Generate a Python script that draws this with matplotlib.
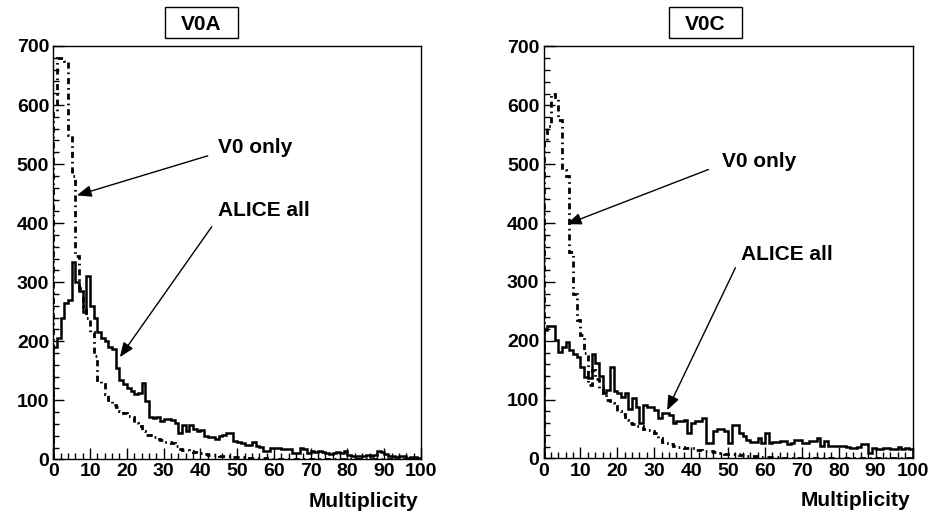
import numpy as np
import matplotlib.pyplot as plt
from matplotlib.patches import Rectangle
from matplotlib.ticker import MultipleLocator

# ROOT-like look: Helvetica bold -> Liberation Sans bold
plt.rcParams['font.family'] = ['Liberation Sans', 'DejaVu Sans']
plt.rcParams['font.weight'] = 'bold'

# bin edges 0..100, one unit per bin
edges = np.arange(0, 101, 1)

# V0A, ALICE all (solid)
v0a_all = [190, 205, 240, 265, 270, 335, 300, 285, 250, 310,
           260, 240, 215, 205, 200, 190, 187, 155, 135, 128,
           120, 115, 110, 112, 130, 98, 72, 70, 72, 65,
           68, 68, 66, 62, 45, 58, 48, 58, 52, 48,
           50, 40, 38, 37, 35, 40, 42, 45, 44, 31,
           30, 28, 25, 25, 30, 22, 21, 14, 14, 19,
           20, 19, 18, 17, 17, 11, 10, 20, 18, 10,
           14, 13, 14, 12, 11, 9, 11, 12, 10, 14,
           8, 6, 6, 5, 5, 7, 6, 7, 14, 13,
           9, 6, 5, 4, 5, 6, 3, 4, 4, 3]

# V0A, V0 only (dash-dot)
v0a_v0only = [590, 680, 680, 675, 550, 480, 345, 290, 260, 240,
              215, 175, 135, 128, 110, 100, 92, 88, 82, 78,
              73, 72, 62, 56, 48, 42, 42, 38, 35, 32,
              30, 30, 28, 22, 18, 16, 15, 14, 13, 12,
              10, 9, 8, 7, 7, 6, 6, 5, 5, 4,
              4, 4, 3, 3, 3, 2, 2, 2, 1, 1,
              1, 1, 1, 0, 1, 0, 0, 1, 0, 0,
              0, 0, 0, 0, 0, 0, 0, 0, 0, 0,
              0, 0, 0, 0, 0, 0, 0, 0, 0, 0,
              0, 0, 0, 0, 0, 0, 0, 0, 0, 0]

# V0C, ALICE all (solid)
v0c_all = [218, 225, 225, 202, 181, 190, 198, 184, 178, 173,
           156, 139, 136, 178, 162, 140, 111, 116, 156, 114,
           111, 105, 112, 84, 103, 88, 60, 91, 88, 88,
           82, 69, 77, 77, 74, 60, 63, 63, 66, 43,
           60, 63, 63, 69, 26, 26, 46, 50, 50, 46,
           26, 57, 57, 43, 38, 32, 28, 28, 35, 26,
           44, 26, 28, 28, 29, 29, 24, 26, 32, 32,
           26, 26, 29, 29, 35, 21, 29, 21, 21, 22,
           22, 22, 20, 18, 18, 20, 25, 25, 9, 18,
           16, 16, 17, 17, 16, 16, 20, 16, 18, 16]

# V0C, V0 only (dash-dot)
v0c_v0only = [540, 565, 620, 610, 575, 490, 480, 350, 280, 235,
              210, 180, 125, 150, 135, 120, 112, 100, 94, 90,
              80, 75, 65, 60, 58, 56, 55, 50, 48, 46,
              44, 35, 28, 26, 25, 22, 20, 19, 18, 18,
              17, 15, 14, 13, 12, 12, 11, 10, 9, 8,
              8, 7, 7, 6, 6, 5, 5, 4, 4, 3,
              3, 2, 2, 2, 1, 1, 1, 1, 0, 1,
              0, 0, 0, 0, 0, 0, 0, 0, 0, 0,
              0, 0, 0, 0, 0, 0, 0, 0, 0, 0,
              0, 0, 0, 0, 0, 0, 0, 0, 0, 0]

fig = plt.figure(figsize=(9.32, 5.18), dpi=100)
ax1 = fig.add_axes([0.0572, 0.1133, 0.3945, 0.7979])
ax2 = fig.add_axes([0.5832, 0.1149, 0.3959, 0.7954])

dashdot = (0, (2.2, 1.4, 0.6, 1.4))
arrow_kw = dict(arrowstyle='-|>,head_length=0.55,head_width=0.22', color='black',
                lw=1.0, mutation_scale=16, shrinkA=0, shrinkB=0)


def draw_panel(ax, all_vals, v0_vals):
    ax.stairs(all_vals, edges, color='black', lw=1.8)
    ax.stairs(v0_vals, edges, color='black', lw=2.0, linestyle=dashdot)
    ax.set_xlim(0, 100)
    ax.set_ylim(0, 700)
    ax.xaxis.set_major_locator(MultipleLocator(10))
    ax.xaxis.set_minor_locator(MultipleLocator(2))
    ax.yaxis.set_major_locator(MultipleLocator(100))
    ax.yaxis.set_minor_locator(MultipleLocator(20))
    ax.tick_params(which='both', direction='in', top=False, right=False,
                   labelsize=14, width=1.0, pad=3)
    ax.tick_params(which='major', length=8)
    ax.tick_params(which='minor', length=4)
    for sp in ax.spines.values():
        sp.set_linewidth(1.0)
    ax.text(0.993, -0.103, 'Multiplicity', transform=ax.transAxes,
            ha='right', va='center', fontsize=15, fontweight='bold')


draw_panel(ax1, v0a_all, v0a_v0only)
draw_panel(ax2, v0c_all, v0c_v0only)

# labels and arrows, left panel
ax1.text(44.8, 528, 'V0 only', ha='left', va='center', fontsize=15)
ax1.annotate('', xy=(6.4, 447), xytext=(42, 514), arrowprops=arrow_kw)
ax1.text(44.8, 421, 'ALICE all', ha='left', va='center', fontsize=15)
ax1.annotate('', xy=(18.1, 173), xytext=(43.1, 394), arrowprops=arrow_kw)

# labels and arrows, right panel
ax2.text(48.5, 505, 'V0 only', ha='left', va='center', fontsize=15)
ax2.annotate('', xy=(6.3, 398), xytext=(44.7, 491), arrowprops=arrow_kw)
ax2.text(53.4, 347, 'ALICE all', ha='left', va='center', fontsize=15)
ax2.annotate('', xy=(33.5, 82), xytext=(52, 324), arrowprops=arrow_kw)

# boxed titles
for x_left, name in [(165, 'V0A'), (669, 'V0C')]:
    fig.add_artist(Rectangle((x_left / 932, 1 - 38 / 518), 73 / 932, 31 / 518,
                             transform=fig.transFigure, facecolor='white',
                             edgecolor='black', lw=1.0))
    fig.text((x_left + 36.5) / 932, 1 - 22.5 / 518, name, ha='center',
             va='center_baseline', fontsize=15)

fig.savefig('out.png', dpi=100)
